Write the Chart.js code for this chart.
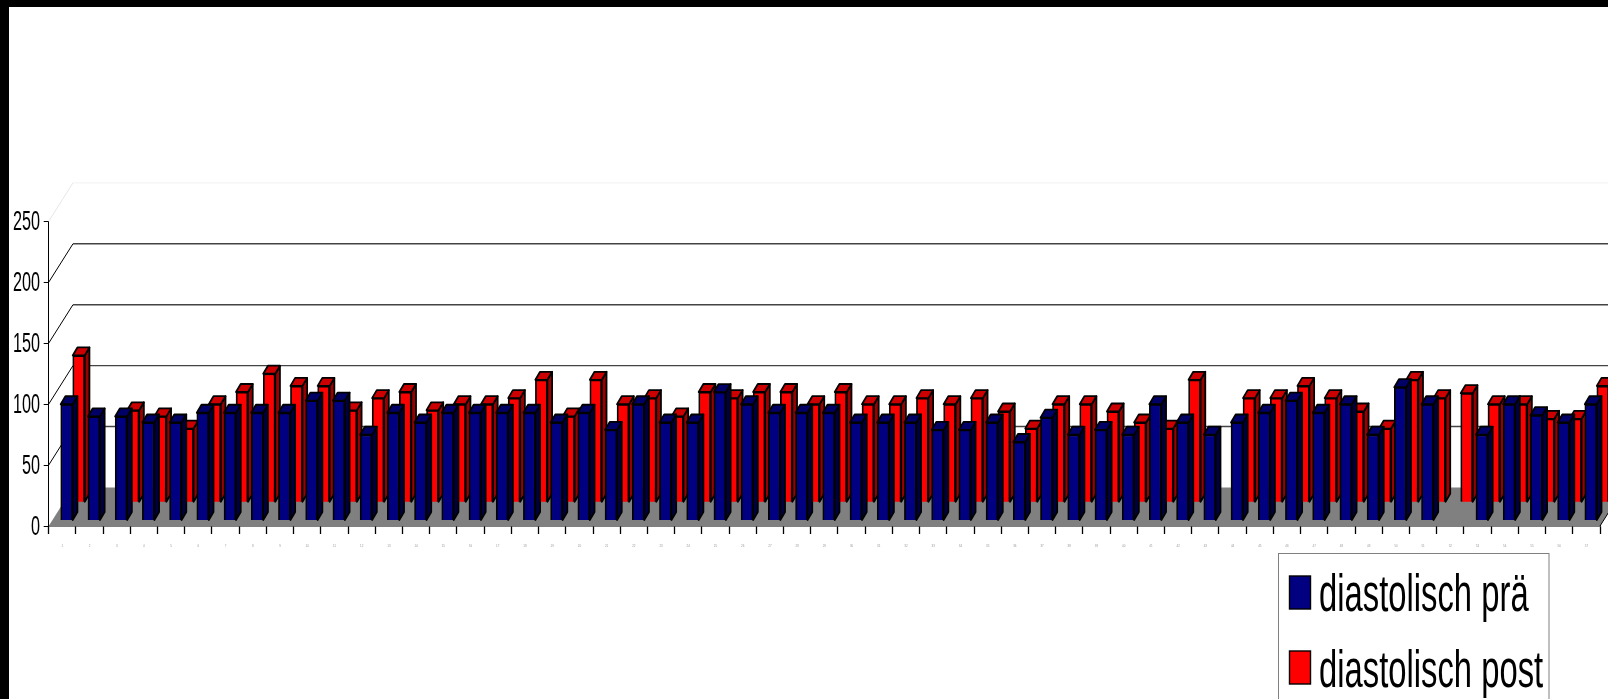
<!DOCTYPE html>
<html lang="de">
<head>
<meta charset="utf-8">
<title>diastolisch prä / post</title>
<script src="https://cdn.jsdelivr.net/npm/chart.js@4"></script>
<style>
    html, body { margin: 0; padding: 0; background: #fff; overflow: hidden; }
    canvas { position: absolute; left: 0; top: 0; }
    .edge { position: absolute; left: 0; top: 0; background: #000; }
    #edge-left { width: 9px; height: 699px; }
    #edge-top { width: 1608px; height: 7px; }
</style>
</head>
<body>
<canvas id="barChart" width="1608" height="699"></canvas>
<div class="edge" id="edge-left"></div>
<div class="edge" id="edge-top"></div>
<script>
// Patienten 1-57
const categories = ['1','2','3','4','5','6','7','8','9','10','11','12','13','14','15','16','17','18','19',
    '20','21','22','23','24','25','26','27','28','29','30','31','32','33','34','35','36','37','38',
    '39','40','41','42','43','44','45','46','47','48','49','50','51','52','53','54','55','56','57'];

const diastolischPrae = [95, 85, 85, 80, 80, 88, 88, 88, 88, 98, 98, 70, 88, 80, 88, 88, 88, 88, 80,
    88, 74, 95, 80, 80, 105, 95, 88, 88, 88, 80, 80, 80, 74, 74, 80, 64, 84, 70, 74, 70,
    95, 80, 70, 80, 88, 98, 88, 95, 70, 109, 95, null, 70, 95, 86, 80, 95];

const diastolischPost = [120, null, 75, 70, 60, 80, 90, 105, 95, 95, 75, 85, 90, 75, 80, 80, 85, 100, 70,
    100, 80, 85, 70, 90, 85, 90, 90, 80, 90, 80, 80, 85, 80, 85, 74, 60, 80, 80, 74, 65,
    60, 100, null, 85, 85, 95, 85, 74, 60, 100, 85, 89, 80, 80, 68, 68, 95];

const yTicks = [0, 50, 100, 150, 200, 250];

const blue = { front: '#000080', top: '#000066', side: '#000040' };
const red = { front: '#ff0000', top: '#cc0000', side: '#990000' };

// Versatz der Rueckwand und der Saeulentiefe in Pixeln
const wallDx = 24.3, wallDy = -38.5;
const barDx = 4.7, barDy = -8;

// Die beiden Reihen stehen hintereinander: eigene, verschobene Achsen
const frontShift = 0.162, backShift = 0.603;
const frontFloor = -4.9, backFloor = -19.94;

function squeezedText(ctx, text, x, y, size, squeeze, align) {
    ctx.save();
    ctx.translate(x, y);
    ctx.scale(squeeze, 1);
    ctx.font = size + 'px "Liberation Sans"';
    ctx.textAlign = align;
    ctx.textBaseline = 'alphabetic';
    ctx.fillStyle = '#000';
    ctx.fillText(text, 0, 0);
    ctx.restore();
}

function face(ctx, pts, fill) {
    ctx.beginPath();
    ctx.moveTo(pts[0][0], pts[0][1]);
    for (let i = 1; i < pts.length; i++) ctx.lineTo(pts[i][0], pts[i][1]);
    ctx.closePath();
    ctx.fillStyle = fill;
    ctx.fill();
    ctx.stroke();
}

// Boden, Rueckwand und Gitterlinien
const wallPlugin = {
    id: 'wall',
    beforeDatasetsDraw(chart) {
        const ctx = chart.ctx;
        const y = chart.scales.y;
        const left = chart.chartArea.left, right = chart.chartArea.right, bottom = chart.chartArea.bottom;

        ctx.save();
        ctx.beginPath();
        ctx.moveTo(left, bottom);
        ctx.lineTo(right, bottom);
        ctx.lineTo(right + wallDx, bottom + wallDy);
        ctx.lineTo(left + wallDx, bottom + wallDy);
        ctx.closePath();
        ctx.fillStyle = '#808080';
        ctx.fill();

        ctx.strokeStyle = '#000';
        ctx.lineWidth = 1;
        ctx.beginPath();
        ctx.moveTo(right, bottom);
        ctx.lineTo(right + wallDx, bottom + wallDy);
        ctx.stroke();

        yTicks.forEach(function(tick) {
            if (tick === 0) return;
            const py = y.getPixelForValue(tick);
            const top = tick === 250;
            ctx.lineWidth = 1;
            ctx.strokeStyle = top ? '#e6e6e6' : '#000';
            ctx.beginPath();
            ctx.moveTo(left, py);
            ctx.lineTo(left + wallDx, py + wallDy);
            ctx.stroke();

            ctx.lineWidth = 1.4;
            ctx.strokeStyle = top ? '#f6f6f6' : '#444';
            ctx.beginPath();
            ctx.moveTo(left + wallDx, py + wallDy);
            ctx.lineTo(right + wallDx, py + wallDy);
            ctx.stroke();
        });
        ctx.restore();
    }
};

// Seiten- und Deckflaechen der Saeulen, jeweils nach der Vorderseite der Reihe
const depthPlugin = {
    id: 'depth',
    afterDatasetDraw(chart, args) {
        const ctx = chart.ctx;
        const dataset = chart.data.datasets[args.index];
        const colors = dataset.faces;
        ctx.save();
        ctx.strokeStyle = '#000';
        ctx.lineWidth = 1.8;
        ctx.lineJoin = 'round';
        args.meta.data.forEach(function(bar, i) {
            if (dataset.data[i].y === null) return;
            const p = bar.getProps(['x', 'y', 'base', 'width'], true);
            const l = p.x - p.width / 2, r = p.x + p.width / 2;
            face(ctx, [[r, p.y], [r + barDx, p.y + barDy], [r + barDx, p.base + barDy], [r, p.base]], colors.side);
            face(ctx, [[l, p.y], [l + barDx, p.y + barDy], [r + barDx, p.y + barDy], [r, p.y]], colors.top);
        });
        ctx.restore();
    }
};

// Schmale Achsenbeschriftung und Legende
const labelPlugin = {
    id: 'labels',
    afterDraw(chart) {
        const ctx = chart.ctx;
        const y = chart.scales.y;
        yTicks.forEach(function(tick) {
            squeezedText(ctx, String(tick), 40, y.getPixelForValue(tick) + 9, 27, 0.6, 'right');
        });

        ctx.save();
        ctx.strokeStyle = '#808080';
        ctx.lineWidth = 1;
        ctx.strokeRect(1278.5, 553.5, 270.5, 170);
        chart.data.datasets.slice().sort(function(a, b) { return a.order - b.order; }).forEach(function(dataset, i) {
            const swatchY = i === 0 ? 576 : 651;
            ctx.fillStyle = dataset.faces.front;
            ctx.fillRect(1289.5, swatchY, 21, 33);
            ctx.strokeStyle = '#000';
            ctx.lineWidth = 1.4;
            ctx.strokeRect(1289.5, swatchY, 21, 33);
            squeezedText(ctx, dataset.label, 1319, i === 0 ? 610.5 : 686.5, 51, 0.643, 'left');
        });
        ctx.restore();
    }
};

function barData(values) {
    return values.map(function(v, i) { return { x: i, y: v }; });
}

document.addEventListener('DOMContentLoaded', function() {
    const ctx = document.getElementById('barChart').getContext('2d');
    new Chart(ctx, {
        type: 'bar',
        data: {
            labels: categories,
            datasets: [
                {
                    label: 'diastolisch prä',
                    data: barData(diastolischPrae),
                    xAxisID: 'xFront',
                    yAxisID: 'yFront',
                    order: 0,
                    faces: blue,
                    backgroundColor: blue.front,
                    borderColor: '#000',
                    borderWidth: 1.8,
                    barThickness: 12,
                    grouped: false,
                    clip: false
                },
                {
                    label: 'diastolisch post',
                    data: barData(diastolischPost),
                    xAxisID: 'xBack',
                    yAxisID: 'yBack',
                    order: 1,
                    faces: red,
                    backgroundColor: red.front,
                    borderColor: '#000',
                    borderWidth: 1.8,
                    barThickness: 12,
                    grouped: false,
                    clip: false
                }
            ]
        },
        options: {
            responsive: false,
            animation: false,
            layout: { padding: { top: 221.3, right: 8 } },
            plugins: {
                legend: { display: false },
                tooltip: { enabled: false }
            },
            scales: {
                x: {
                    type: 'category',
                    offset: true,
                    afterFit: function(scale) { scale.height = 173; },
                    grid: {
                        offset: true,
                        drawOnChartArea: false,
                        tickLength: 8,
                        tickColor: '#000',
                        tickWidth: 1.3
                    },
                    border: { color: '#000', width: 1.4 },
                    ticks: {
                        autoSkip: false,
                        maxRotation: 0,
                        padding: 10,
                        color: '#999',
                        font: { size: 3 }
                    }
                },
                y: {
                    type: 'linear',
                    min: 0,
                    max: 250,
                    afterFit: function(scale) { scale.width = 48.7; },
                    afterBuildTicks: function(scale) {
                        scale.ticks = yTicks.map(function(v) { return { value: v }; });
                    },
                    grid: {
                        drawOnChartArea: false,
                        tickLength: 5,
                        tickColor: '#000',
                        tickWidth: 1
                    },
                    border: { color: '#000', width: 1 },
                    ticks: { display: false }
                },
                xFront: { type: 'linear', display: false, offset: false, min: -0.5 - frontShift, max: 56.5 - frontShift },
                xBack: { type: 'linear', display: false, offset: false, min: -0.5 - backShift, max: 56.5 - backShift },
                yFront: { type: 'linear', display: false, min: frontFloor, max: 250 + frontFloor },
                yBack: { type: 'linear', display: false, min: backFloor, max: 250 + backFloor }
            }
        },
        plugins: [wallPlugin, depthPlugin, labelPlugin]
    });
});
</script>
</body>
</html>
